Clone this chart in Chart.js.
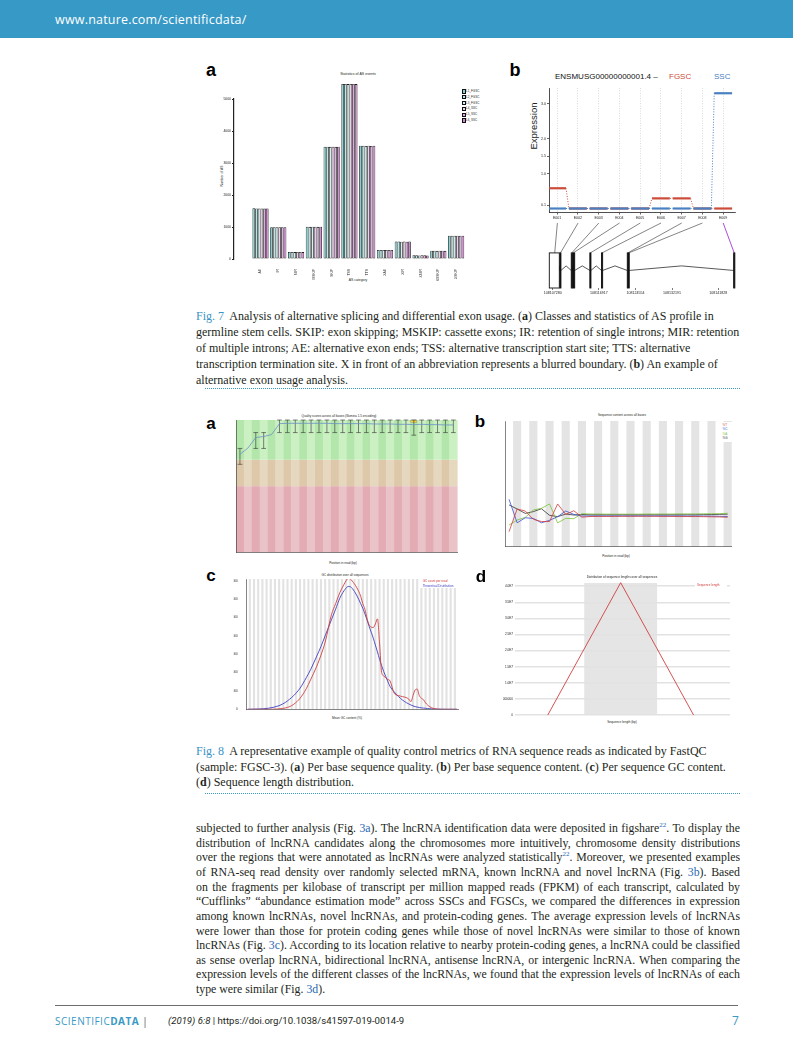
<!DOCTYPE html>
<html>
<head>
<meta charset="utf-8">
<title>Scientific Data - Fig. 7 and Fig. 8</title>
<script src="https://cdn.jsdelivr.net/npm/chart.js@4.4.1/dist/chart.umd.min.js"></script>
<style>
  body { margin: 0; background: #fff; }
  #page { position: relative; width: 793px; height: 1043px; overflow: hidden; color: #231f20; font-family: 'Liberation Serif', 'Times New Roman', serif; }
  .frame { position: absolute; }
  .panel { position: absolute; font-family: 'Liberation Sans', Arial, sans-serif; font-weight: bold; line-height: 1; transform: translate(-50%, -50%); color: #000; }
  .t { position: absolute; font-family: 'Liberation Sans', Arial, sans-serif; white-space: nowrap; line-height: 1; }
  .c { transform: translate(-50%, -50%); }
  .l { transform: translateY(-50%); }
  .rot { transform: translate(-50%, -50%) rotate(-90deg); }
  .cap { position: absolute; left: 196px; white-space: nowrap; font-size: 12px; line-height: 1; transform: translateY(-50%); }
  .fig { color: #3a93c5; }
  .txt { position: absolute; left: 196px; width: 544px; font-size: 11.8px; line-height: 1; white-space: nowrap; text-align: justify; text-align-last: justify; transform: translateY(-50%); }
  .txt.last { text-align-last: left; }
  .lnk { color: #2a67b3; }
  sup { font-size: 7px; line-height: 0; }
  .dots { position: absolute; left: 205px; width: 535px; height: 0; border-top: 1.4px dotted #3a9ac4; }
  .sq { position: absolute; width: 2.2px; height: 2.2px; border: 0.5px solid #111; }
</style>
</head>
<body>
<div id="page">
  <div style="position:absolute;left:0;top:0;width:793px;height:38px;background:#3799c6;"></div>
  <div class="t l" style="left:55px;top:20px;font-family:'Open Sans',sans-serif;font-size:12.5px;letter-spacing:0.2px;color:#fff;">www.nature.com/scientificdata/</div>

  <!-- Fig. 7a -->
  <div class="panel" style="left:211px;top:70px;font-size:18px;">a</div>
  <div class="t c" style="left:358px;top:75px;font-size:3.6px;">Statistics of AS events</div>
  <div class="t rot" style="left:223px;top:176px;font-size:3.4px;">Number of AS</div>
  <div class="t c" style="left:358px;top:281px;font-size:3.4px;">AS category</div>
  <div id="legend7a"></div>
  <div class="frame" style="left:196px;top:64px;width:300px;height:226px;"><canvas id="chart7a"></canvas></div>

  <!-- Fig. 7b -->
  <div class="panel" style="left:515px;top:70px;font-size:18px;">b</div>
  <div class="t l" style="left:555px;top:76.5px;font-size:8px;color:#111;">ENSMUSG00000000001.4 &ndash;</div>
  <div class="t l" style="left:669px;top:76.5px;font-size:8px;color:#cc4c3a;">FGSC</div>
  <div class="t l" style="left:714px;top:76.5px;font-size:8px;color:#4a80c2;">SSC</div>
  <div class="t rot" style="left:533.5px;top:126px;font-size:9.5px;color:#222;">Expression</div>
  <div class="frame" style="left:505px;top:84px;width:240px;height:140px;"><canvas id="chart7b"></canvas></div>
  <div class="frame" style="left:505px;top:222px;width:240px;height:80px;"><canvas id="chart7gene"></canvas></div>

  <div class="cap" style="top:316px;"><span class="fig">Fig. 7</span>&nbsp; Analysis of alternative splicing and differential exon usage. (<b>a</b>) Classes and statistics of AS profile in</div>
  <div class="cap" style="top:332px;">germline stem cells. SKIP: exon skipping; MSKIP: cassette exons; IR: retention of single introns; MIR: retention</div>
  <div class="cap" style="top:348px;">of multiple introns; AE: alternative exon ends; TSS: alternative transcription start site; TTS: alternative</div>
  <div class="cap" style="top:364px;">transcription termination site. X in front of an abbreviation represents a blurred boundary. (<b>b</b>) An example of</div>
  <div class="cap" style="top:380px;">alternative exon usage analysis.</div>
  <div class="dots" style="top:388px;"></div>

  <!-- Fig. 8 -->
  <div class="panel" style="left:211px;top:423px;font-size:17px;">a</div>
  <div class="t c" style="left:339px;top:416.5px;font-size:3.1px;">Quality scores across all bases (Illumina 1.5 encoding)</div>
  <div class="t c" style="left:343px;top:564px;font-size:3.1px;">Position in read (bp)</div>
  <div class="frame" style="left:218px;top:412px;width:245px;height:160px;"><canvas id="chart8a"></canvas></div>

  <div class="panel" style="left:480px;top:421px;font-size:17px;">b</div>
  <div class="t c" style="left:622px;top:415.7px;font-size:3.1px;">Sequence content across all bases</div>
  <div class="t c" style="left:616px;top:556.7px;font-size:3.1px;">Position in read (bp)</div>
  <div class="frame" style="left:490px;top:412px;width:250px;height:155px;"><canvas id="chart8b"></canvas></div>
  <div style="position:absolute;left:719px;top:421.5px;width:12.5px;height:20px;background:#fff;"></div>
  <div class="t l" style="left:722.5px;top:425px;font-size:3px;color:#d23a3a;">%T</div>
  <div class="t l" style="left:722.5px;top:429.4px;font-size:3px;color:#3a4fd0;">%C</div>
  <div class="t l" style="left:722.5px;top:433.8px;font-size:3px;color:#7cc23a;">%A</div>
  <div class="t l" style="left:722.5px;top:438.2px;font-size:3px;color:#333;">%G</div>

  <div class="panel" style="left:211px;top:575px;font-size:17px;">c</div>
  <div class="t c" style="left:345px;top:576px;font-size:3.1px;">GC distribution over all sequences</div>
  <div class="t c" style="left:347px;top:719.3px;font-size:3.1px;">Mean GC content (%)</div>
  <div class="frame" style="left:220px;top:570px;width:245px;height:160px;"><canvas id="chart8c"></canvas></div>
  <div style="position:absolute;left:420px;top:579.3px;width:38px;height:9px;background:#fff;"></div>
  <div class="t l" style="left:422.7px;top:581px;font-size:3px;color:#d04040;">GC count per read</div>
  <div class="t l" style="left:422.7px;top:586px;font-size:3px;color:#4040c0;">Theoretical Distribution</div>

  <div class="panel" style="left:481px;top:576px;font-size:17px;">d</div>
  <div class="t c" style="left:622px;top:577.7px;font-size:3.1px;">Distribution of sequence lengths over all sequences</div>
  <div class="t c" style="left:622px;top:723.3px;font-size:3.1px;">Sequence length (bp)</div>
  <div class="frame" style="left:490px;top:570px;width:250px;height:160px;"><canvas id="chart8d"></canvas></div>
  <div style="position:absolute;left:695px;top:583px;width:32px;height:5px;background:#fff;"></div>
  <div class="t l" style="left:697px;top:585.3px;font-size:3px;color:#d04040;">Sequence length</div>

  <div class="cap" style="top:751px;"><span class="fig">Fig. 8</span>&nbsp; A representative example of quality control metrics of RNA sequence reads as indicated by FastQC</div>
  <div class="cap" style="top:766.5px;">(sample: FGSC-3). (<b>a</b>) Per base sequence quality. (<b>b</b>) Per base sequence content. (<b>c</b>) Per sequence GC content.</div>
  <div class="cap" style="top:782px;">(<b>d</b>) Sequence length distribution.</div>
  <div class="dots" style="top:793px;"></div>

  <div class="txt" style="top:829px;">subjected to further analysis (Fig. <span class="lnk">3a</span>). The lncRNA identification data were deposited in figshare<sup class="lnk">22</sup>. To display the</div>
  <div class="txt" style="top:843.6px;">distribution of lncRNA candidates along the chromosomes more intuitively, chromosome density distributions</div>
  <div class="txt" style="top:858.3px;">over the regions that were annotated as lncRNAs were analyzed statistically<sup class="lnk">22</sup>. Moreover, we presented examples</div>
  <div class="txt" style="top:872.9px;">of RNA-seq read density over randomly selected mRNA, known lncRNA and novel lncRNA (Fig. <span class="lnk">3b</span>). Based</div>
  <div class="txt" style="top:887.6px;">on the fragments per kilobase of transcript per million mapped reads (FPKM) of each transcript, calculated by</div>
  <div class="txt" style="top:902.2px;">&ldquo;Cufflinks&rdquo; &ldquo;abundance estimation mode&rdquo; across SSCs and FGSCs, we compared the differences in expression</div>
  <div class="txt" style="top:916.8px;">among known lncRNAs, novel lncRNAs, and protein-coding genes. The average expression levels of lncRNAs</div>
  <div class="txt" style="top:931.5px;">were lower than those for protein coding genes while those of novel lncRNAs were similar to those of known</div>
  <div class="txt" style="top:946.1px;">lncRNAs (Fig. <span class="lnk">3c</span>). According to its location relative to nearby protein-coding genes, a lncRNA could be classified</div>
  <div class="txt" style="top:960.8px;">as sense overlap lncRNA, bidirectional lncRNA, antisense lncRNA, or intergenic lncRNA. When comparing the</div>
  <div class="txt" style="top:975.4px;">expression levels of the different classes of the lncRNAs, we found that the expression levels of lncRNAs of each</div>
  <div class="txt last" style="top:990px;">type were similar (Fig. <span class="lnk">3d</span>).</div>

  <div style="position:absolute;left:55px;top:1005px;width:683px;height:0;border-top:1px solid #6d6e71;"></div>
  <div class="t l" style="left:55px;top:1021px;font-family:'Open Sans',sans-serif;font-size:10px;letter-spacing:0.5px;color:#3a99c5;">SCIENTIFIC<b>DATA</b> <span style="color:#555;">|</span></div>
  <div class="t l" style="left:168px;top:1021px;font-family:Roboto,sans-serif;font-size:9.6px;color:#231f20;"><i>(2019) 6:8</i> | https://doi.org/10.1038/s41597-019-0014-9</div>
  <div class="t l" style="left:732px;top:1021px;font-family:'Open Sans',sans-serif;font-size:12px;color:#3a99c5;">7</div>
</div>

<script>
// ---------- Fig. 7a: statistics of AS events ----------
const asCategories = ['AE', 'IR', 'MIR', 'MSKIP', 'SKIP', 'TSS', 'TTS', 'XAE', 'XIR', 'XMIR', 'XMSKIP', 'XSKIP'];
const asSamples = ['L1_FGSC', 'L2_FGSC', 'L3_FGSC', 'L4_SSC', 'L5_SSC', 'L6_SSC'];
const asL1 = [1585, 995, 220, 1010, 3510, 5470, 3540, 285, 545, 115, 260, 730];
const asL2 = [1580, 995, 220, 1005, 3510, 5470, 3540, 285, 545, 115, 260, 730];
const asL3 = [1580, 990, 215, 1010, 3505, 5465, 3535, 280, 540, 110, 255, 725];
const asL4 = [1580, 995, 220, 1010, 3510, 5470, 3540, 285, 545, 115, 260, 730];
const asL5 = [1575, 990, 220, 1005, 3505, 5470, 3535, 285, 540, 115, 260, 730];
const asL6 = [1580, 995, 215, 1010, 3510, 5465, 3540, 280, 545, 110, 255, 725];

// ---------- Fig. 7b: exon usage ----------
const exonBins = ['E001', 'E002', 'E003', 'E004', 'E005', 'E006', 'E007', 'E008', 'E009'];
const sscExpr = [0, 0, 0, 0, 0, 0, 0, 0, 3.3];
const fgscExpr = [0.58, 0, 0, 0, 0, 0.29, 0.29, 0, 0];
const exprTicks = [0.1, 1, 1.5, 2, 3];
const exonStart = [108106571, 108108790, 108111150, 108111480, 108115030, 108117460, 108122840, 108145030];
const exonEnd = [108108657, 108109000, 108111380, 108111870, 108115260, 108117700, 108123250, 108145280];
const binTarget = [108107700, 108108900, 108111260, 108111560, 108115140, 108117580, 108122950, 108123150, 108145150];
const genomeTicks = [108107280, 108116917, 108124554, 108132191, 108141828];

// ---------- Fig. 8a/b: per base quality and content ----------
const posLabels = ['1', '2', '3', '4', '5', '6', '7', '8', '9', '10-14', '15-19', '20-24', '25-29', '30-34', '35-39', '40-44', '45-49', '50-54', '55-59', '60-64', '65-69', '70-74', '75-79', '80-84', '85-89', '90-94', '95-99', '100'];
const qualMean = [29.6, 31.5, 34.7, 35.0, 35.6, 38.9, 39.0, 39.0, 39.0, 39.0, 39.0, 39.0, 38.9, 38.9, 38.9, 38.9, 38.9, 38.8, 38.8, 38.8, 38.7, 38.7, 38.6, 38.7, 38.6, 38.6, 38.5, 38.5];
const qualP10 = [26.6, null, 31.4, 31.4, null, 36.2, 36.2, 36.2, 36.2, 36.2, 36.2, 36.2, 36.2, 36.2, 36.2, 36.2, 36.2, 36.2, 36.2, 36.2, 36.2, 36.2, 35.4, 36.2, 36.2, 36.2, 36.2, 36.2];
const qualP90 = [31.4, null, 36.2, 36.2, null, 40, 40, 40, 40, 40, 40, 40, 40, 40, 40, 40, 40, 40, 40, 40, 40, 40, 40, 40, 40, 40, 40, 40];
const qualQ1 = [null, null, null, null, null, null, null, null, null, null, null, null, null, null, null, null, null, null, null, null, null, null, 39.2, null, null, null, null, null];
const qualQ3 = [null, null, null, null, null, null, null, null, null, null, null, null, null, null, null, null, null, null, null, null, null, null, 40, null, null, null, null, null];
const qualityBands = [0, 20, 28, 40];

const seqT = [12, 30, 28.4, 21.8, 20, 20, 34, 25.7, 28.6, 23.5, 24.0, 24.1, 24.1, 24.1, 24.2, 24.2, 24.2, 24.2, 24.2, 24.1, 24.1, 24.0, 24.0, 24.0, 23.9, 23.8, 23.7, 23.4];
const seqC = [37.7, 19, 23, 22.5, 19, 21, 23.9, 28.4, 25.7, 24.4, 24.5, 24.5, 24.5, 24.5, 24.5, 24.5, 24.5, 24.5, 24.5, 24.5, 24.5, 24.5, 24.4, 24.4, 24.4, 24.3, 24.2, 24.0];
const seqA = [17.2, 21.2, 23.3, 29.2, 30.5, 34, 19, 22.5, 22.3, 26.3, 26.0, 26.0, 25.9, 25.9, 25.9, 25.9, 25.9, 26.0, 26.0, 26.0, 26.0, 26.1, 26.1, 26.1, 26.2, 26.2, 26.3, 26.6];
const seqG = [33.2, 30, 26.5, 27.9, 30.2, 25, 23.9, 26, 25.2, 25.6, 25.4, 25.4, 25.4, 25.4, 25.4, 25.4, 25.4, 25.4, 25.4, 25.4, 25.4, 25.4, 25.4, 25.4, 25.5, 25.6, 25.7, 25.9];

// ---------- Fig. 8c: GC content ----------
const gcPercent = [0, 5, 10, 15, 18, 20, 22, 25, 28, 30, 33, 35, 37, 40, 42, 44, 46, 47, 48, 49, 50, 52, 54, 55, 56, 57, 58, 59, 60, 61, 62, 63, 64, 65, 66, 67, 68, 70, 72, 74, 76, 77, 78, 79, 80, 81, 82, 83, 84, 85, 86, 87, 88, 89, 90, 92, 95, 100];
const gcCount = [0, 0, 0, 5000, 15000, 29000, 55000, 120000, 225000, 320000, 470000, 590000, 730000, 1030000, 1150000, 1270000, 1360000, 1400000, 1425000, 1420000, 1395000, 1330000, 1230000, 1150000, 1090000, 990000, 920000, 895000, 890000, 930000, 985000, 720000, 400000, 365000, 340000, 325000, 310000, 175000, 150000, 138000, 125000, 110000, 84000, 150000, 210000, 220000, 150000, 120000, 105000, 70000, 45000, 29000, 15000, 8000, 3000, 0, 0, 0];
const gcTheory = [0, 3000, 12000, 40000, 75000, 110000, 150000, 230000, 345000, 430000, 580000, 684000, 800000, 975000, 1090000, 1210000, 1290000, 1320000, 1338000, 1335000, 1315000, 1245000, 1150000, 1100000, 1040000, 975000, 905000, 840000, 775000, 700000, 625000, 545000, 475000, 411000, 355000, 300000, 250000, 190000, 140000, 100000, 70000, 58000, 47000, 37000, 29000, 24000, 20000, 16000, 13000, 11000, 8000, 6000, 4000, 3000, 2000, 1000, 0, 0];
const gcTicks = [0, 5, 10, 15, 20, 25, 30, 35, 40, 45, 50, 55, 60, 65, 70, 75, 80, 85, 90, 95, 100];
const gcYTicks = [0, 200000, 400000, 600000, 800000, 1000000, 1200000, 1400000];

// ---------- Fig. 8d: sequence length ----------
const seqLen = [99, 100, 101];
const seqLenCount = [0, 41100000, 0];
const lenYTicks = [0, 5000000, 10000000, 15000000, 20000000, 25000000, 30000000, 35000000, 40000000];

Chart.defaults.font.family = "'Liberation Sans', Arial, sans-serif";
Chart.defaults.color = '#222';
Chart.defaults.animation = false;
Chart.defaults.responsive = true;
Chart.defaults.maintainAspectRatio = false;
Chart.defaults.plugins.legend.display = false;
Chart.defaults.plugins.tooltip.enabled = false;
Chart.defaults.elements.point.radius = 0;
Chart.defaults.elements.line.tension = 0;

const fixWidth = w => s => { s.width = w; };
const fixHeight = h => s => { s.height = h; };
const setTicks = vals => s => { s.ticks = vals.map(v => ({ value: v })); };

// legend of 7a
const asColors = ['#7fd3d3', '#b5e9e9', '#d5f3f3', '#f0d0f0', '#e2a8e2', '#d585d5'];
const legend7a = document.getElementById('legend7a');
asSamples.forEach((name, k) => {
  const y = 91 + k * 5.8;
  legend7a.insertAdjacentHTML('beforeend',
    '<div class="sq" style="left:462px;top:' + (y - 1.6) + 'px;background:' + asColors[k] + ';"></div>' +
    '<div class="t l" style="left:466px;top:' + y + 'px;font-size:3px;">' + name + '</div>');
});

const asSeries = [asL1, asL2, asL3, asL4, asL5, asL6];
new Chart(document.getElementById('chart7a'), {
  type: 'bar',
  data: {
    datasets: asSeries.map((vals, k) => ({
      label: asSamples[k],
      data: vals.map((v, i) => ({ x: i, y: v })),
      backgroundColor: asColors[k],
      borderColor: '#1b1b1b',
      borderWidth: 0.8,
      borderSkipped: false,
      categoryPercentage: 0.91,
      barPercentage: 1,
      clip: false
    }))
  },
  options: {
    layout: { padding: { left: 24, top: 35, right: 20, bottom: 9 } },
    scales: {
      x: {
        type: 'linear', min: -0.924, max: 11.55, afterFit: fixHeight(22),
        afterBuildTicks: setTicks(asCategories.map((c, i) => i)),
        grid: { display: false }, border: { display: false },
        ticks: { autoSkip: false, minRotation: 90, maxRotation: 90, padding: 2, font: { size: 3.4 }, callback: v => asCategories[v] }
      },
      y: {
        min: 0, max: 5000, afterFit: fixWidth(14),
        grid: { drawOnChartArea: false, tickLength: 2, tickColor: '#222' },
        border: { color: '#222', width: 1.2 },
        ticks: { stepSize: 1000, padding: 1, font: { size: 3.4 }, callback: v => String(v) }
      }
    }
  }
});

// 7b expression per exon bin
const binHalf = 0.43;
const binSteps = vals => vals.flatMap((v, i) => [{ x: i - binHalf, y: v }, { x: i + binHalf, y: v }]);
const joinDotted = {
  borderDash: c => (c.p0DataIndex % 2 ? [1, 1.6] : []),
  borderWidth: c => (c.p0DataIndex % 2 ? 1 : 2.2)
};
new Chart(document.getElementById('chart7b'), {
  type: 'line',
  data: {
    datasets: [
      { label: 'SSC', data: binSteps(sscExpr), borderColor: '#4a80c2', borderWidth: 2.2, borderCapStyle: 'butt', segment: joinDotted },
      { label: 'FGSC', data: binSteps(fgscExpr), borderColor: '#cc4c3a', borderWidth: 2.2, borderCapStyle: 'butt', segment: joinDotted }
    ]
  },
  options: {
    layout: { padding: { left: 32, top: 4, right: 10, bottom: 1 } },
    scales: {
      x: {
        type: 'linear', min: -0.39, max: 8.57, afterFit: fixHeight(11),
        afterBuildTicks: setTicks(exonBins.map((b, i) => i)),
        grid: { color: '#c4c4c4', lineWidth: 0.6, tickLength: 2.5, tickColor: '#222', tickWidth: 0.7 },
        border: { color: '#222', width: 0.8, dash: [1, 1.5] },
        ticks: { autoSkip: false, maxRotation: 0, padding: 1.5, font: { size: 3.6 }, callback: v => exonBins[v] }
      },
      y: {
        min: -0.1, max: 3.45, afterFit: fixWidth(12),
        afterBuildTicks: setTicks(exprTicks),
        grid: { drawOnChartArea: false, tickLength: 2, tickColor: '#222', tickWidth: 0.7 },
        border: { color: '#222', width: 0.8 },
        ticks: { padding: 1, font: { size: 3.6 } }
      }
    }
  }
});

// 7b gene model with connectors from bins to exons
const geneModel = {
  id: 'geneModel',
  afterDatasetsDraw(chart) {
    const { ctx, scales } = chart;
    const xg = scales.x, xb = scales.xb, y = scales.y;
    const top = y.getPixelForValue(1), exonTop = y.getPixelForValue(0.54), exonBot = y.getPixelForValue(0);
    ctx.save();
    binTarget.forEach((g, i) => {
      const differs = Math.abs(sscExpr[i] - fgscExpr[i]) > 1;
      ctx.strokeStyle = differs ? '#a23ad6' : '#333';
      ctx.lineWidth = differs ? 0.9 : 0.6;
      ctx.beginPath();
      ctx.moveTo(xb.getPixelForValue(i), top);
      ctx.lineTo(xg.getPixelForValue(g), exonTop);
      ctx.stroke();
    });
    exonStart.forEach((s, i) => {
      const x0 = xg.getPixelForValue(s), x1 = xg.getPixelForValue(exonEnd[i]);
      ctx.fillStyle = x1 - x0 > 4 ? '#fff' : '#111';
      ctx.fillRect(x0, exonTop, x1 - x0, exonBot - exonTop);
      ctx.strokeStyle = '#111';
      ctx.lineWidth = 0.9;
      ctx.strokeRect(x0, exonTop, x1 - x0, exonBot - exonTop);
    });
    ctx.restore();
  }
};
new Chart(document.getElementById('chart7gene'), {
  type: 'scatter',
  data: {
    datasets: exonStart.slice(1).map((s, i) => ({
      data: [{ x: exonEnd[i], y: 0.27 }, { x: (exonEnd[i] + s) / 2, y: 0.34 }, { x: s, y: 0.27 }],
      showLine: true, borderColor: '#111', borderWidth: 0.7
    }))
  },
  options: {
    layout: { padding: { left: 44.3, top: 1, right: 10, bottom: 4 } },
    scales: {
      x: {
        type: 'linear', position: 'bottom', min: 108106571, max: 108145313, afterFit: fixHeight(10),
        afterBuildTicks: setTicks(genomeTicks),
        grid: { drawOnChartArea: false, tickLength: 2, tickColor: '#222', tickWidth: 0.6 },
        border: { display: false },
        ticks: { autoSkip: false, maxRotation: 0, padding: 1, font: { size: 3.6 }, callback: v => String(v) }
      },
      xb: { type: 'linear', display: false, min: -0.39, max: 8.57 },
      y: { display: false, min: 0, max: 1 }
    }
  },
  plugins: [geneModel]
});

// 8a per base sequence quality
const bandColors = [['#e3abb3', '#e9c3c8'], ['#ddc9aa', '#e6d7bf'], ['#b3e6ab', '#cbf1c3']];
const qualityPlot = {
  id: 'qualityPlot',
  beforeDraw(chart) {
    const { ctx, scales: { x, y } } = chart;
    const w = x.getPixelForValue(1) - x.getPixelForValue(0);
    ctx.save();
    posLabels.forEach((p, i) => {
      const x0 = x.getPixelForValue(i) - w / 2;
      for (let b = 0; b < qualityBands.length - 1; b++) {
        const yTop = y.getPixelForValue(qualityBands[b + 1]), yBot = y.getPixelForValue(qualityBands[b]);
        ctx.fillStyle = bandColors[b][i % 2];
        ctx.fillRect(x0, yTop, w + 0.3, yBot - yTop);
      }
    });
    ctx.restore();
  },
  beforeDatasetsDraw(chart) {
    const { ctx, scales: { x, y } } = chart;
    const w = x.getPixelForValue(1) - x.getPixelForValue(0);
    ctx.save();
    posLabels.forEach((p, i) => {
      const cx = x.getPixelForValue(i);
      if (qualQ1[i] !== null) {
        const yt = y.getPixelForValue(qualQ3[i]), yb = y.getPixelForValue(qualQ1[i]);
        ctx.fillStyle = '#f5d53a';
        ctx.fillRect(cx - w * 0.38, yt, w * 0.76, yb - yt);
        ctx.strokeStyle = '#888';
        ctx.lineWidth = 0.4;
        ctx.strokeRect(cx - w * 0.38, yt, w * 0.76, yb - yt);
      }
      if (qualP10[i] === null) return;
      const y1 = y.getPixelForValue(qualP90[i]), y0 = y.getPixelForValue(qualP10[i]);
      ctx.strokeStyle = '#333';
      ctx.lineWidth = 0.6;
      ctx.beginPath();
      ctx.moveTo(cx, y0); ctx.lineTo(cx, y1);
      ctx.moveTo(cx - w * 0.3, y0); ctx.lineTo(cx + w * 0.3, y0);
      ctx.moveTo(cx - w * 0.3, y1); ctx.lineTo(cx + w * 0.3, y1);
      ctx.stroke();
    });
    ctx.restore();
  }
};
const fastqcX = {
  offset: true, afterFit: fixHeight(6),
  grid: { display: false }, border: { color: '#333', width: 0.6 },
  ticks: { autoSkip: false, maxRotation: 0, padding: 1, font: { size: 3 }, callback: (v, i) => (i < 9 || i % 2 === 1 ? posLabels[i] : '') }
};
new Chart(document.getElementById('chart8a'), {
  type: 'line',
  data: { labels: posLabels, datasets: [{ label: 'Mean', data: qualMean, borderColor: '#6b8fc8', borderWidth: 0.8 }] },
  options: {
    layout: { padding: { left: 10, top: 8, right: 5.7, bottom: 13.7 } },
    scales: {
      x: fastqcX,
      y: { min: 0, max: 40, afterFit: fixWidth(8), grid: { display: false }, border: { color: '#333', width: 0.6 },
           ticks: { stepSize: 2, padding: 1, font: { size: 3 } } }
    }
  },
  plugins: [qualityPlot]
});

// 8b per base sequence content
const grayColumns = {
  id: 'grayColumns',
  beforeDraw(chart) {
    const { ctx, chartArea: a, scales: { x } } = chart;
    const w = x.getPixelForValue(1) - x.getPixelForValue(0);
    ctx.save();
    ctx.fillStyle = '#e4e4e4';
    posLabels.forEach((p, i) => {
      if (i % 2 === 1) ctx.fillRect(x.getPixelForValue(i) - w / 2, a.top, w, a.bottom - a.top);
    });
    ctx.restore();
  }
};
new Chart(document.getElementById('chart8b'), {
  type: 'line',
  data: {
    labels: posLabels,
    datasets: [
      { label: '%T', data: seqT, borderColor: '#d23a3a', borderWidth: 0.8 },
      { label: '%C', data: seqC, borderColor: '#3a4fd0', borderWidth: 0.8 },
      { label: '%A', data: seqA, borderColor: '#7cc23a', borderWidth: 0.8 },
      { label: '%G', data: seqG, borderColor: '#333', borderWidth: 0.8 }
    ]
  },
  options: {
    layout: { padding: { left: 7, top: 9, right: 8.3, bottom: 14.3 } },
    scales: {
      x: fastqcX,
      y: { min: 0, max: 100, afterFit: fixWidth(8), grid: { display: false }, border: { color: '#333', width: 0.6 },
           ticks: { stepSize: 10, padding: 1, font: { size: 3 } } }
    }
  },
  plugins: [grayColumns]
});

// 8c GC distribution
const gcColumns = {
  id: 'gcColumns',
  beforeDraw(chart) {
    const { ctx, chartArea: a, scales: { x } } = chart;
    const w = x.getPixelForValue(1) - x.getPixelForValue(0);
    ctx.save();
    ctx.fillStyle = '#e2e2e2';
    for (let g = 1; g <= 100; g += 2) ctx.fillRect(x.getPixelForValue(g) - w / 2, a.top, w, a.bottom - a.top);
    ctx.restore();
  }
};
new Chart(document.getElementById('chart8c'), {
  type: 'scatter',
  data: {
    datasets: [
      { label: 'GC count per read', data: gcPercent.map((g, i) => ({ x: g, y: gcCount[i] })), showLine: true, borderColor: '#d04040', borderWidth: 0.9, cubicInterpolationMode: 'monotone' },
      { label: 'Theoretical Distribution', data: gcPercent.map((g, i) => ({ x: g, y: gcTheory[i] })), showLine: true, borderColor: '#4040c0', borderWidth: 0.9, cubicInterpolationMode: 'monotone' }
    ]
  },
  options: {
    layout: { padding: { left: 13.7, top: 9, right: 7, bottom: 14.7 } },
    scales: {
      x: { type: 'linear', min: -0.5, max: 100.5, afterFit: fixHeight(6), afterBuildTicks: setTicks(gcTicks),
           grid: { display: false }, border: { color: '#333', width: 0.6 },
           ticks: { autoSkip: false, maxRotation: 0, padding: 1, font: { size: 3 } } },
      y: { min: 0, max: 1419000, afterFit: fixWidth(13), afterBuildTicks: setTicks(gcYTicks),
           grid: { display: false }, border: { color: '#333', width: 0.6 },
           ticks: { padding: 1, font: { size: 3 }, callback: v => String(v) } }
    }
  },
  plugins: [gcColumns]
});

// 8d sequence length distribution
const lengthShade = {
  id: 'lengthShade',
  beforeDraw(chart) {
    const { ctx, chartArea: a, scales: { x } } = chart;
    ctx.save();
    ctx.fillStyle = '#e5e5e5';
    const x0 = x.getPixelForValue(seqLen[1] - 0.5), x1 = x.getPixelForValue(seqLen[1] + 0.5);
    ctx.fillRect(x0, a.top, x1 - x0, a.bottom - a.top);
    ctx.restore();
  }
};
new Chart(document.getElementById('chart8d'), {
  type: 'scatter',
  data: {
    datasets: [{ label: 'Sequence length', data: seqLen.map((l, i) => ({ x: l, y: seqLenCount[i] })), showLine: true, borderColor: '#d04040', borderWidth: 0.9, clip: false }]
  },
  options: {
    layout: { padding: { left: 13, top: 13, right: 10, bottom: 9 } },
    scales: {
      x: { type: 'linear', min: 98.55, max: 101.5, afterFit: fixHeight(6), afterBuildTicks: setTicks(seqLen),
           grid: { display: false }, border: { display: false },
           ticks: { autoSkip: false, maxRotation: 0, padding: 1, font: { size: 3.2, weight: 'bold' } } },
      y: { min: 0, max: 41000000, afterFit: fixWidth(12), afterBuildTicks: setTicks(lenYTicks),
           grid: { color: '#e2e2e2', lineWidth: 1.6, drawTicks: false }, border: { display: false },
           ticks: { padding: 2, font: { size: 3.1 }, callback: v => (v === 0 ? '0' : v < 10000000 ? String(v) : (v / 10000000).toFixed(1) + 'E7') } }
    }
  },
  plugins: [lengthShade]
});
</script>
</body>
</html>
